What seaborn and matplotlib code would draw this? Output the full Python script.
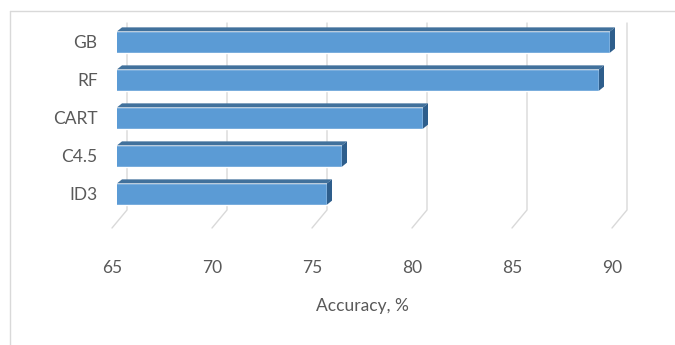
import matplotlib
matplotlib.use("Agg")
import matplotlib.pyplot as plt
import seaborn as sns
import pandas as pd
from matplotlib.lines import Line2D
from matplotlib.patches import Polygon
from matplotlib.transforms import IdentityTransform, ScaledTranslation

categories = ["GB", "RF", "CART", "C4.5", "ID3"]
accuracy = [89.65, 89.1, 80.3, 76.25, 75.5]
x_ticks = [65, 70, 75, 80, 85, 90]
x_label = "Accuracy, %"

sns.set_theme(style="white")
plt.rcParams['font.family'] = ['Lato', 'DejaVu Sans']

TEXT = "#595959"
GRID = "#d9d9d9"
FRONT = "#5B9BD5"
TOP = "#41719C"
SIDE = "#2E5E8C"
FS = 12.5

df = pd.DataFrame({"model": categories, "acc": accuracy})

fig = plt.figure(figsize=(6.75, 3.45), dpi=100)
W, H = 675, 345
ax = fig.add_axes([117 / W, 1 - 213 / H, 500 / W, 190 / H])
ax.set_facecolor("none")

sns.barplot(data=df, x="acc", y="model", order=categories, orient="h",
            color=FRONT, saturation=1, width=0.56, ax=ax, zorder=3)
ax.set_xlim(x_ticks[0], x_ticks[-1])
ax.set_xticks(x_ticks)
ax.set_xticklabels([str(t) for t in x_ticks])
for s in ax.spines.values():
    s.set_visible(False)
ax.tick_params(axis="both", length=0, colors=TEXT, labelsize=FS)
ax.tick_params(axis="x", pad=34)
ax.tick_params(axis="y", pad=14)
ax.set_ylabel("")
ax.set_xlabel(x_label, color=TEXT, fontsize=FS)
ax.xaxis.set_label_coords(0.49, -(306 - 213) / 190)
ax.xaxis.label.set_va("center")
for lab in ax.get_xticklabels():
    lab.set_transform(lab.get_transform() + ScaledTranslation(-5 / 100, 0, fig.dpi_scale_trans))

fig.canvas.draw()

# back-wall gridlines with floor diagonals
ax_bbox = ax.get_window_extent()
top_px = ax_bbox.y1
bot_px = ax_bbox.y0 + 3
for t in x_ticks:
    bx = ax.transData.transform((t, 0))[0] + 10
    ln = Line2D([bx, bx, bx - 15], [top_px, bot_px, bot_px - 18],
                color=GRID, lw=1.0, transform=IdentityTransform(),
                zorder=0.5, clip_on=False)
    ax.add_artist(ln)

# 3D faces for bars
dx, dy = 5, 4
x0 = ax.get_xlim()[0]
for p in ax.patches:
    w = p.get_width()
    y = p.get_y()
    h = p.get_height()
    (xl, yt) = ax.transData.transform((x0, y))
    (xr, yb) = ax.transData.transform((w, y + h))
    top_poly = Polygon([(xl, yt), (xr, yt), (xr + dx, yt + dy), (xl + dx, yt + dy)],
                       closed=True, facecolor=TOP, edgecolor="none",
                       transform=IdentityTransform(), zorder=3.5, clip_on=False)
    side_poly = Polygon([(xr, yb), (xr, yt), (xr + dx, yt + dy), (xr + dx, yb + dy)],
                        closed=True, facecolor=SIDE, edgecolor="none",
                        transform=IdentityTransform(), zorder=3.5, clip_on=False)
    ax.add_artist(top_poly)
    ax.add_artist(side_poly)

# chart area border (partial, as cropped)
fig.add_artist(Line2D([10 / W, 10 / W], [0, 1 - 11 / H], color=GRID, lw=1.0,
                      transform=fig.transFigure))
fig.add_artist(Line2D([10 / W, 1], [1 - 11 / H, 1 - 11 / H], color=GRID, lw=1.0,
                      transform=fig.transFigure))

fig.savefig("out.png", dpi=100, facecolor="white")
